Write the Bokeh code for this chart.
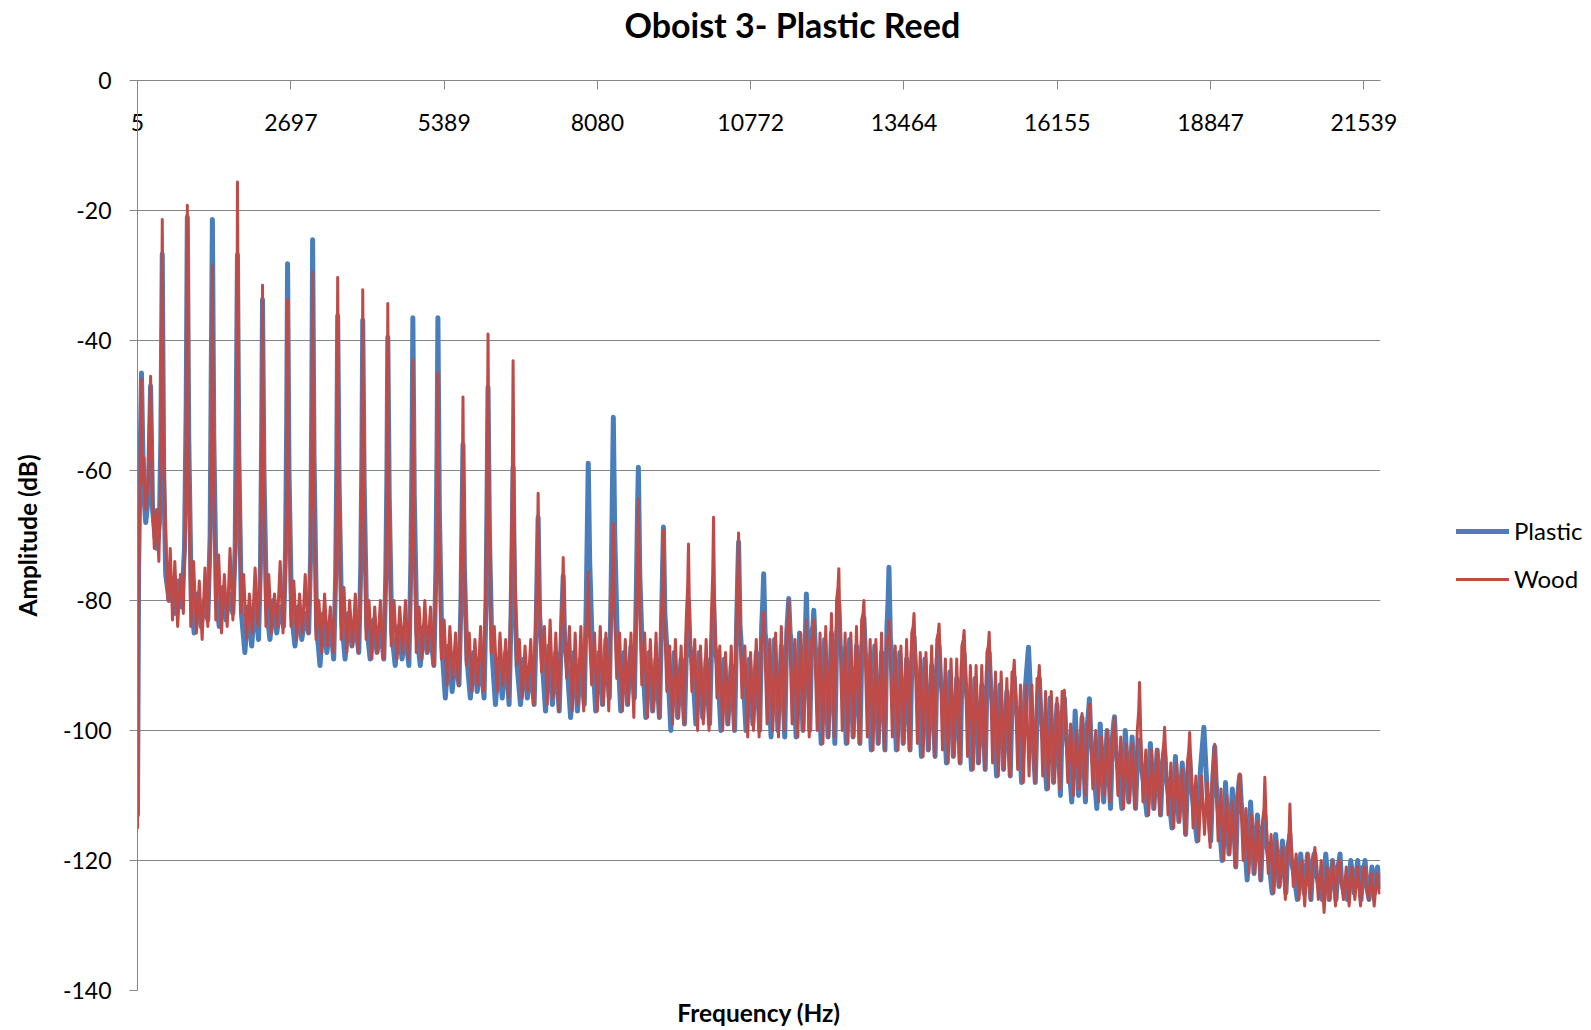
from bokeh.plotting import figure
from bokeh.models import Range1d, FixedTicker, LinearAxis, Legend, LegendItem
from bokeh.layouts import row
from bokeh.embed import file_html
from bokeh.resources import INLINE

# ---------------- data ----------------
chart_title = "Oboist 3- Plastic Reed"
x_title = "Frequency (Hz)"
y_title = "Amplitude (dB)"
series_names = ["Plastic", "Wood"]

x_tick_values = [5, 2697, 5389, 8080, 10772, 13464, 16155, 18847, 21539]
x_tick_labels = ["5", "2697", "5389", "8080", "10772", "13464", "16155", "18847", "21539"]
y_tick_values = [0, -20, -40, -60, -80, -100, -120, -140]
y_tick_labels = ["0", "-20", "-40", "-60", "-80", "-100", "-120", "-140"]

plastic_hz = [
    5, 25, 45, 75, 110, 150, 195, 235, 270, 310, 350, 390, 415,
    440, 465, 500, 560, 610, 660, 720, 780, 830, 860,
    880, 905, 950, 1000, 1060, 1120, 1180, 1240, 1280, 1300,
    1320, 1345, 1390, 1440, 1500, 1560, 1620, 1680, 1720, 1740,
    1760, 1785, 1830, 1890, 1950, 2010, 2070, 2130, 2165, 2185,
    2200, 2225, 2270, 2330, 2390, 2450, 2510, 2570, 2605, 2625,
    2640, 2665, 2710, 2770, 2830, 2890, 2950, 3010, 3045, 3065,
    3080, 3105, 3150, 3210, 3270, 3330, 3390, 3450, 3485, 3505,
    3520, 3545, 3590, 3650, 3710, 3770, 3830, 3890, 3925, 3945,
    3960, 3985, 4030, 4090, 4150, 4210, 4270, 4330, 4365, 4385,
    4400, 4425, 4470, 4530, 4590, 4650, 4710, 4770, 4805, 4825,
    4840, 4865, 4910, 4970, 5030, 5090, 5150, 5210, 5245, 5265,
    5280, 5305, 5350, 5410, 5470, 5530, 5590, 5650, 5685, 5705,
    5720, 5745, 5790, 5850, 5910, 5970, 6030, 6090, 6125, 6145,
    6160, 6185, 6230, 6290, 6350, 6410, 6470, 6530, 6565, 6585,
    6600, 6625, 6670, 6730, 6790, 6850, 6910, 6970, 7005, 7025,
    7040, 7065, 7110, 7170, 7230, 7290, 7350, 7410, 7445, 7465,
    7480, 7505, 7550, 7610, 7670, 7730, 7790, 7850, 7885, 7905,
    7920, 7945, 7990, 8050, 8110, 8170, 8230, 8290, 8325, 8345,
    8360, 8385, 8430, 8490, 8550, 8610, 8670, 8730, 8765, 8785,
    8800, 8825, 8870, 8930, 8990, 9050, 9110, 9170, 9205, 9225,
    9240, 9265, 9310, 9370, 9430, 9490, 9550, 9610, 9645, 9665,
    9680, 9705, 9750, 9810, 9870, 9930, 9990, 10050, 10085, 10105,
    10120, 10145, 10190, 10250, 10310, 10370, 10430, 10490, 10525, 10545,
    10560, 10585, 10630, 10690, 10750, 10810, 10870, 10930, 10965, 10985,
    11000, 11025, 11070, 11130, 11190, 11250, 11310, 11370, 11405, 11425,
    11440, 11465, 11510, 11570, 11630, 11690, 11750, 11810, 11845, 11865,
    11880, 11905, 11950, 12010, 12070, 12130, 12190, 12250, 12285, 12305,
    12320, 12345, 12390, 12450, 12510, 12570, 12630, 12690, 12725, 12745,
    12760, 12785, 12830, 12890, 12950, 13010, 13070, 13130, 13165, 13185,
    13200, 13225, 13270, 13330, 13390, 13450, 13510, 13570, 13605, 13625,
    13640, 13665, 13710, 13770, 13830, 13890, 13950, 14010, 14045, 14065,
    14080, 14105, 14150, 14210, 14270, 14330, 14390, 14450, 14485, 14505,
    14520, 14545, 14590, 14650, 14710, 14770, 14830, 14890, 14925, 14945,
    14960, 14985, 15030, 15090, 15150, 15210, 15270, 15330, 15365, 15385,
    15400, 15425, 15470, 15530, 15590, 15650, 15710, 15770, 15805, 15825,
    15840, 15865, 15910, 15970, 16030, 16090, 16150, 16210, 16245, 16265,
    16280, 16305, 16350, 16410, 16470, 16530, 16590, 16650, 16685, 16705,
    16720, 16745, 16790, 16850, 16910, 16970, 17030, 17090, 17125, 17145,
    17160, 17185, 17230, 17290, 17350, 17410, 17470, 17530, 17565, 17585,
    17600, 17625, 17670, 17730, 17790, 17850, 17910, 17970, 18005, 18025,
    18040, 18065, 18110, 18170, 18230, 18290, 18350, 18410, 18445, 18465,
    18480, 18505, 18550, 18610, 18670, 18730, 18790, 18850, 18885, 18905,
    18920, 18945, 18990, 19050, 19110, 19170, 19230, 19290, 19325, 19345,
    19360, 19385, 19430, 19490, 19550, 19610, 19670, 19730, 19765, 19785,
    19800, 19825, 19870, 19930, 19990, 20050, 20110, 20170, 20205, 20225,
    20240, 20265, 20310, 20370, 20430, 20490, 20550, 20610, 20645, 20665,
    20680, 20705, 20750, 20810, 20870, 20930, 20990, 21050, 21085, 21105,
    21120, 21145, 21190, 21250, 21310, 21370, 21430, 21490, 21525, 21545,
    21560, 21590, 21630, 21680, 21730, 21780, 21820,
]
plastic_db = [
    -113, -75, -62, -45, -63, -68, -64, -47, -66, -70, -72, -68, -55,
    -26.7, -60, -76, -80, -78, -82, -77, -81, -72, -50,
    -21.0, -55, -80, -85, -79, -84, -80, -83, -70, -45,
    -21.4, -55, -80, -84, -78, -83, -79, -82, -72, -50,
    -26.8, -58, -82, -88, -81, -87, -80, -86, -74, -55,
    -33.7, -60, -81, -86, -80, -85, -81, -84, -72, -52,
    -28.2, -60, -82, -87, -81, -86, -82, -85, -73, -50,
    -24.5, -58, -84, -90, -82, -88, -83, -89, -76, -58,
    -36.2, -62, -83, -89, -82, -87, -83, -88, -75, -58,
    -36.9, -62, -84, -89, -83, -88, -84, -89, -76, -60,
    -39.5, -64, -85, -90, -84, -89, -85, -90, -74, -58,
    -36.5, -64, -85, -90, -84, -88, -85, -90, -75, -56,
    -36.5, -66, -87, -95, -87, -94, -88, -93, -80, -66,
    -56.0, -75, -89, -95, -88, -94, -89, -95, -80, -62,
    -47.2, -70, -88, -96, -89, -95, -88, -96, -82, -70,
    -59.5, -78, -90, -96, -89, -95, -90, -96, -84, -74,
    -67.2, -82, -89, -97, -87, -96, -88, -97, -86, -80,
    -76.2, -86, -90, -98, -88, -97, -89, -96, -80, -68,
    -58.9, -74, -87, -97, -88, -96, -86, -95, -76, -62,
    -51.8, -70, -86, -97, -88, -96, -87, -95, -78, -66,
    -59.5, -76, -88, -98, -88, -97, -89, -98, -84, -75,
    -68.7, -82, -89, -100, -88, -98, -89, -99, -87, -84,
    -80.0, -87, -90, -99, -88, -98, -89, -99, -87, -84,
    -80.0, -87, -90, -100, -89, -99, -90, -100, -84, -76,
    -71.0, -84, -90, -100, -89, -99, -88, -100, -84, -80,
    -75.9, -85, -88, -101, -86, -100, -87, -101, -85, -82,
    -79.7, -85, -88, -101, -85, -100, -79, -100, -85, -84,
    -81.5, -87, -90, -102, -86, -101, -85, -102, -85, -83,
    -80.5, -87, -89, -102, -86, -101, -87, -102, -87, -85,
    -82.6, -88, -91, -103, -87, -102, -88, -103, -84, -80,
    -74.9, -86, -90, -103, -88, -102, -89, -103, -88, -87,
    -85.6, -90, -93, -104, -89, -103, -90, -104, -89, -88,
    -87.0, -92, -95, -105, -91, -104, -92, -105, -90, -89,
    -88.2, -93, -96, -106, -92, -105, -93, -106, -91, -90,
    -88.0, -93, -97, -107, -93, -106, -94, -107, -94, -93,
    -91.8, -96, -99, -108, -94, -87.2, -99, -108, -96, -94,
    -92.0, -97, -101, -109, -95, -108, -96, -110, -97, -96,
    -95.0, -100, -104, -111, -97, -110, -98, -111, -99, -97,
    -95.1, -101, -105, -112, -99, -111, -100, -112, -101, -99,
    -97.9, -103, -106, -112, -100, -111, -101, -112, -104, -102,
    -101.5, -105, -108, -113, -102, -112, -103, -113, -105, -104,
    -103.0, -107, -110, -115, -104, -114, -105, -116, -107, -105,
    -104.0, -108, -112, -117, -106, -99.5, -110, -117, -108, -105,
    -102.5, -108, -113, -120, -108, -119, -109, -121, -110, -108,
    -106.9, -111, -115, -123, -111, -122, -113, -123, -115, -114,
    -113.0, -117, -120, -125, -116, -124, -117, -125, -118, -117,
    -116.0, -120, -122, -126, -119, -125, -119, -126, -120, -119,
    -119.0, -122, -124, -126, -119, -126, -120, -126, -121, -120,
    -119.0, -123, -125, -126, -120, -125, -120, -126, -121, -121,
    -120.0, -124, -126, -121, -125, -121, -124,
]

wood_hz = [
    5, 20, 40, 70, 90, 120, 150, 190, 235, 265, 300, 340, 380, 415,
    440, 460, 500, 540, 580, 620, 660, 710, 760, 810, 850,
    880, 900, 940, 990, 1040, 1090, 1140, 1190, 1240, 1280, 1305,
    1320, 1340, 1380, 1430, 1480, 1530, 1580, 1630, 1680, 1720, 1745,
    1760, 1780, 1820, 1870, 1920, 1970, 2020, 2070, 2120, 2160, 2185,
    2200, 2220, 2260, 2310, 2360, 2410, 2460, 2510, 2560, 2600, 2625,
    2640, 2660, 2700, 2750, 2800, 2850, 2900, 2950, 3000, 3040, 3065,
    3080, 3100, 3140, 3190, 3240, 3290, 3340, 3390, 3440, 3480, 3505,
    3520, 3540, 3580, 3630, 3680, 3730, 3780, 3830, 3880, 3920, 3945,
    3960, 3980, 4020, 4070, 4120, 4170, 4220, 4270, 4320, 4360, 4385,
    4400, 4420, 4460, 4510, 4560, 4610, 4660, 4710, 4760, 4800, 4825,
    4840, 4860, 4900, 4950, 5000, 5050, 5100, 5150, 5200, 5240, 5265,
    5280, 5300, 5340, 5390, 5440, 5490, 5540, 5590, 5640, 5680, 5705,
    5720, 5740, 5780, 5830, 5880, 5930, 5980, 6030, 6080, 6120, 6145,
    6160, 6180, 6220, 6270, 6320, 6370, 6420, 6470, 6520, 6560, 6585,
    6600, 6620, 6660, 6710, 6760, 6810, 6860, 6910, 6960, 7000, 7025,
    7040, 7060, 7100, 7150, 7200, 7250, 7300, 7350, 7400, 7440, 7465,
    7480, 7500, 7540, 7590, 7640, 7690, 7740, 7790, 7840, 7880, 7905,
    7920, 7940, 7980, 8030, 8080, 8130, 8180, 8230, 8280, 8320, 8345,
    8360, 8380, 8420, 8470, 8520, 8570, 8620, 8670, 8720, 8760, 8785,
    8800, 8820, 8860, 8910, 8960, 9010, 9060, 9110, 9160, 9200, 9225,
    9240, 9260, 9300, 9350, 9400, 9450, 9500, 9550, 9600, 9640, 9665,
    9680, 9700, 9740, 9790, 9840, 9890, 9940, 9990, 10040, 10080, 10105,
    10120, 10140, 10180, 10230, 10280, 10330, 10380, 10430, 10480, 10520, 10545,
    10560, 10580, 10620, 10670, 10720, 10770, 10820, 10870, 10920, 10960, 10985,
    11000, 11020, 11060, 11110, 11160, 11210, 11260, 11310, 11360, 11400, 11425,
    11440, 11460, 11500, 11550, 11600, 11650, 11700, 11750, 11800, 11840, 11865,
    11880, 11900, 11940, 11990, 12040, 12090, 12140, 12190, 12240, 12280, 12305,
    12320, 12340, 12380, 12430, 12480, 12530, 12580, 12630, 12680, 12720, 12745,
    12760, 12780, 12820, 12870, 12920, 12970, 13020, 13070, 13120, 13160, 13185,
    13200, 13220, 13260, 13310, 13360, 13410, 13460, 13510, 13560, 13600, 13625,
    13640, 13660, 13700, 13750, 13800, 13850, 13900, 13950, 14000, 14040, 14065,
    14080, 14100, 14140, 14190, 14240, 14290, 14340, 14390, 14440, 14480, 14505,
    14520, 14540, 14580, 14630, 14680, 14730, 14780, 14830, 14880, 14920, 14945,
    14960, 14980, 15020, 15070, 15120, 15170, 15220, 15270, 15320, 15360, 15385,
    15400, 15420, 15460, 15510, 15560, 15610, 15660, 15710, 15760, 15800, 15825,
    15840, 15860, 15900, 15950, 16000, 16050, 16100, 16150, 16200, 16240, 16265,
    16280, 16300, 16340, 16390, 16440, 16490, 16540, 16590, 16640, 16680, 16705,
    16720, 16740, 16780, 16830, 16880, 16930, 16980, 17030, 17080, 17120, 17145,
    17160, 17180, 17220, 17270, 17320, 17370, 17420, 17470, 17520, 17560, 17585,
    17600, 17620, 17660, 17710, 17760, 17810, 17860, 17910, 17960, 18000, 18025,
    18040, 18060, 18100, 18150, 18200, 18250, 18300, 18350, 18400, 18440, 18465,
    18480, 18500, 18540, 18590, 18640, 18690, 18740, 18790, 18840, 18880, 18905,
    18920, 18940, 18980, 19030, 19080, 19130, 19180, 19230, 19280, 19320, 19345,
    19360, 19380, 19420, 19470, 19520, 19570, 19620, 19670, 19720, 19760, 19785,
    19800, 19820, 19860, 19910, 19960, 20010, 20060, 20110, 20160, 20200, 20225,
    20240, 20260, 20300, 20350, 20400, 20450, 20500, 20550, 20600, 20640, 20665,
    20680, 20700, 20740, 20790, 20840, 20890, 20940, 20990, 21040, 21080, 21105,
    21120, 21140, 21180, 21230, 21280, 21330, 21380, 21430, 21480, 21520, 21545,
    21560, 21580, 21620, 21670, 21720, 21770, 21810,
]
wood_db = [
    -115, -85, -68, -46, -62, -58, -66, -62, -45.5, -64, -72, -66, -74, -60,
    -21.4, -55, -70, -80, -72, -83, -74, -84, -76, -82, -66,
    -19.2, -55, -84, -74, -85, -77, -86, -75, -84, -72, -55,
    -28.5, -58, -83, -73, -85, -76, -84, -72, -83, -74, -58,
    -15.6, -50, -82, -76, -86, -79, -85, -75, -84, -76, -58,
    -31.5, -60, -84, -76, -85, -79, -84, -74, -85, -77, -62,
    -33.8, -62, -84, -77, -86, -79, -85, -76, -85, -74, -58,
    -29.5, -60, -86, -80, -88, -79, -87, -81, -88, -78, -60,
    -30.3, -60, -86, -78, -88, -80, -87, -79, -88, -78, -60,
    -32.2, -62, -86, -80, -89, -81, -88, -80, -89, -79, -62,
    -34.3, -64, -87, -80, -89, -81, -88, -80, -89, -80, -66,
    -43.0, -68, -88, -81, -89, -80, -88, -81, -90, -80, -68,
    -45.0, -70, -89, -83, -93, -84, -92, -85, -93, -82, -66,
    -48.7, -72, -90, -85, -94, -86, -93, -84, -94, -78, -60,
    -39.0, -66, -88, -84, -94, -85, -93, -86, -95, -80, -62,
    -43.1, -68, -90, -86, -95, -87, -94, -86, -96, -82, -74,
    -63.5, -80, -91, -84, -96, -83, -95, -85, -97, -84, -80,
    -73.4, -84, -92, -84, -97, -85, -96, -84, -97, -84, -82,
    -75.6, -85, -93, -85, -97, -84, -96, -85, -97, -82, -76,
    -68.2, -82, -92, -85, -97, -86, -96, -85, -98, -81, -74,
    -64.3, -80, -93, -85, -98, -86, -97, -85, -98, -83, -78,
    -69.2, -83, -94, -87, -99, -86, -98, -87, -99, -83, -78,
    -71.3, -84, -94, -86, -100, -87, -99, -86, -100, -83, -76,
    -67.2, -82, -95, -87, -100, -88, -99, -87, -100, -83, -76,
    -69.6, -83, -95, -87, -101, -88, -100, -86, -101, -86, -85,
    -81.8, -87, -99, -86, -100, -85, -101, -84, -100, -85, -84,
    -80.0, -86, -99, -86, -101, -85, -100, -83, -101, -86, -86,
    -83.0, -88, -100, -85, -102, -84, -101, -82, -101, -80, -78,
    -75.1, -85, -100, -85, -102, -85, -101, -84, -102, -83, -82,
    -80.0, -87, -101, -86, -103, -86, -102, -85, -103, -86, -86,
    -83.1, -88, -101, -87, -103, -87, -102, -86, -103, -85, -84,
    -82.0, -88, -102, -88, -104, -88, -103, -87, -104, -86, -85,
    -83.6, -89, -103, -89, -105, -89, -104, -89, -105, -87, -86,
    -84.6, -90, -104, -90, -106, -90, -105, -90, -106, -88, -87,
    -84.9, -91, -105, -91, -107, -91, -106, -92, -107, -91, -91,
    -89.2, -94, -106, -93, -108, -93, -107, -93, -108, -92, -92,
    -90.0, -95, -107, -94, -109, -94, -108, -95, -109, -94, -94,
    -93.8, -99, -108, -99, -110, -100, -109, -97.4, -110, -100, -98,
    -96.0, -101, -109, -100, -111, -101, -110, -100, -111, -101, -100,
    -98.0, -102, -110, -101, -112, -102, -111, -102, -112, -100, -97,
    -92.6, -100, -111, -103, -113, -103, -112, -103, -113, -104, -102,
    -99.5, -104, -113, -105, -115, -105, -114, -106, -116, -105, -103,
    -100.3, -105, -115, -107, -117, -107, -116, -108, -118, -106, -104,
    -102.1, -107, -117, -109, -120, -110, -119, -111, -121, -110, -108,
    -106.7, -111, -120, -112, -122, -113, -122, -114, -123, -114, -112,
    -107.2, -113, -122, -116, -125, -117, -124, -118, -126, -118, -116,
    -111.3, -117, -124, -119, -126, -120, -127, -119, -126, -120, -119,
    -118.0, -121, -126, -120, -128, -121, -126, -120, -127, -121, -120,
    -120.4, -123, -126, -121, -127, -121, -126, -121, -127, -122, -121,
    -121.0, -124, -126, -122, -127, -122, -125,
]

if len(plastic_hz) != len(plastic_db) or len(wood_hz) != len(wood_db):
    raise SystemExit("length mismatch %d %d %d %d" % (len(plastic_hz), len(plastic_db), len(wood_hz), len(wood_db)))

# ---------------- styling ----------------
GRID = "#868686"
BLUE = "#4a7ebb"
RED = "#be4b48"
FONT = "Lato"
BLUE_W = 5
RED_W = 3

p = figure(width=1420, height=1030, output_backend="svg", toolbar_location=None,
           x_range=Range1d(5, 21831), y_range=Range1d(-140, 0),
           x_axis_location=None,
           min_border_left=137, min_border_right=40, min_border_top=80, min_border_bottom=40)
p.outline_line_color = None
p.background_fill_color = "white"
p.border_fill_color = "white"

p.title.text = chart_title
p.title.text_font = FONT
p.title.text_font_size = "34px"
p.title.text_font_style = "bold"
p.title.text_color = "black"
p.title.align = "left"
p.title.offset = 487
p.title.vertical_align = "top"
p.title.standoff = 0

# y axis
yax = p.yaxis[0]
yax.ticker = FixedTicker(ticks=y_tick_values, minor_ticks=[])
yax.major_label_overrides = {v: s for v, s in zip(y_tick_values, y_tick_labels)}
yax.major_tick_out = 8
yax.major_tick_in = 0
yax.minor_tick_out = 0
yax.minor_tick_in = 0
yax.axis_line_color = GRID
yax.major_tick_line_color = GRID
yax.major_label_text_font = FONT
yax.major_label_text_font_size = "23px"
yax.major_label_text_color = "black"
yax.major_label_standoff = 18
yax.axis_label = y_title
yax.axis_label_text_font = FONT
yax.axis_label_text_font_size = "24.5px"
yax.axis_label_text_font_style = "bold"
yax.axis_label_text_color = "black"
yax.axis_label_standoff = 18

# x axis on the 0 dB line (top of plot): ticks point down, labels sit below the line
xax = LinearAxis(ticker=FixedTicker(ticks=x_tick_values, minor_ticks=[]),
                 major_label_overrides={v: s for v, s in zip(x_tick_values, x_tick_labels)},
                 major_tick_out=0, major_tick_in=9, minor_tick_out=0, minor_tick_in=0,
                 axis_line_color=GRID, major_tick_line_color=GRID,
                 major_label_text_font=FONT, major_label_text_font_size="23px",
                 major_label_text_color="black", major_label_standoff=-50,
                 axis_label=" ", axis_label_standoff=35,
                 axis_label_text_font_size="23px")
p.add_layout(xax, "above")

# bottom axis carrying only the title
bax = LinearAxis(ticker=FixedTicker(ticks=[], minor_ticks=[]), axis_label=x_title,
                 axis_line_color=None, major_tick_out=0, major_tick_in=0,
                 minor_tick_out=0, minor_tick_in=0, major_label_standoff=0,
                 axis_label_standoff=7, axis_label_text_font=FONT,
                 axis_label_text_font_size="24.5px", axis_label_text_font_style="bold",
                 axis_label_text_color="black")
p.add_layout(bax, "below")

p.xgrid.visible = False
p.ygrid.ticker = FixedTicker(ticks=y_tick_values, minor_ticks=[])
p.ygrid.grid_line_color = GRID
p.ygrid.grid_line_width = 1

p.line(plastic_hz, plastic_db, line_color=BLUE, line_width=BLUE_W,
       line_join="round", line_cap="round")
p.line(wood_hz, wood_db, line_color=RED, line_width=RED_W,
       line_join="round", line_cap="round")

# legend panel to the right of the chart (its own ranges keep the series out of view)
pl = figure(width=171, height=1030, output_backend="svg", toolbar_location=None,
            x_range=Range1d(0, 1), y_range=Range1d(0, 1),
            x_axis_location=None, y_axis_location=None,
            min_border_left=0, min_border_right=0, min_border_top=0, min_border_bottom=0)
pl.outline_line_color = None
pl.xgrid.visible = False
pl.ygrid.visible = False
pl.background_fill_color = "white"
pl.border_fill_color = "white"
k_p = pl.line(plastic_hz, plastic_db, line_color=BLUE, line_width=BLUE_W, line_cap="round")
k_w = pl.line(wood_hz, wood_db, line_color=RED, line_width=RED_W, line_cap="round")
legend = Legend(items=[LegendItem(label=series_names[0], renderers=[k_p]),
                       LegendItem(label=series_names[1], renderers=[k_w])],
                location=(36, 397), orientation="vertical",
                border_line_color=None, background_fill_alpha=0,
                label_text_font=FONT, label_text_font_size="24px", label_text_color="black",
                glyph_width=53, glyph_height=26, label_height=26, spacing=19,
                padding=0, margin=0, label_standoff=5)
pl.add_layout(legend, "center")

open("out.html", "w").write(file_html(row(p, pl, spacing=0), INLINE))
